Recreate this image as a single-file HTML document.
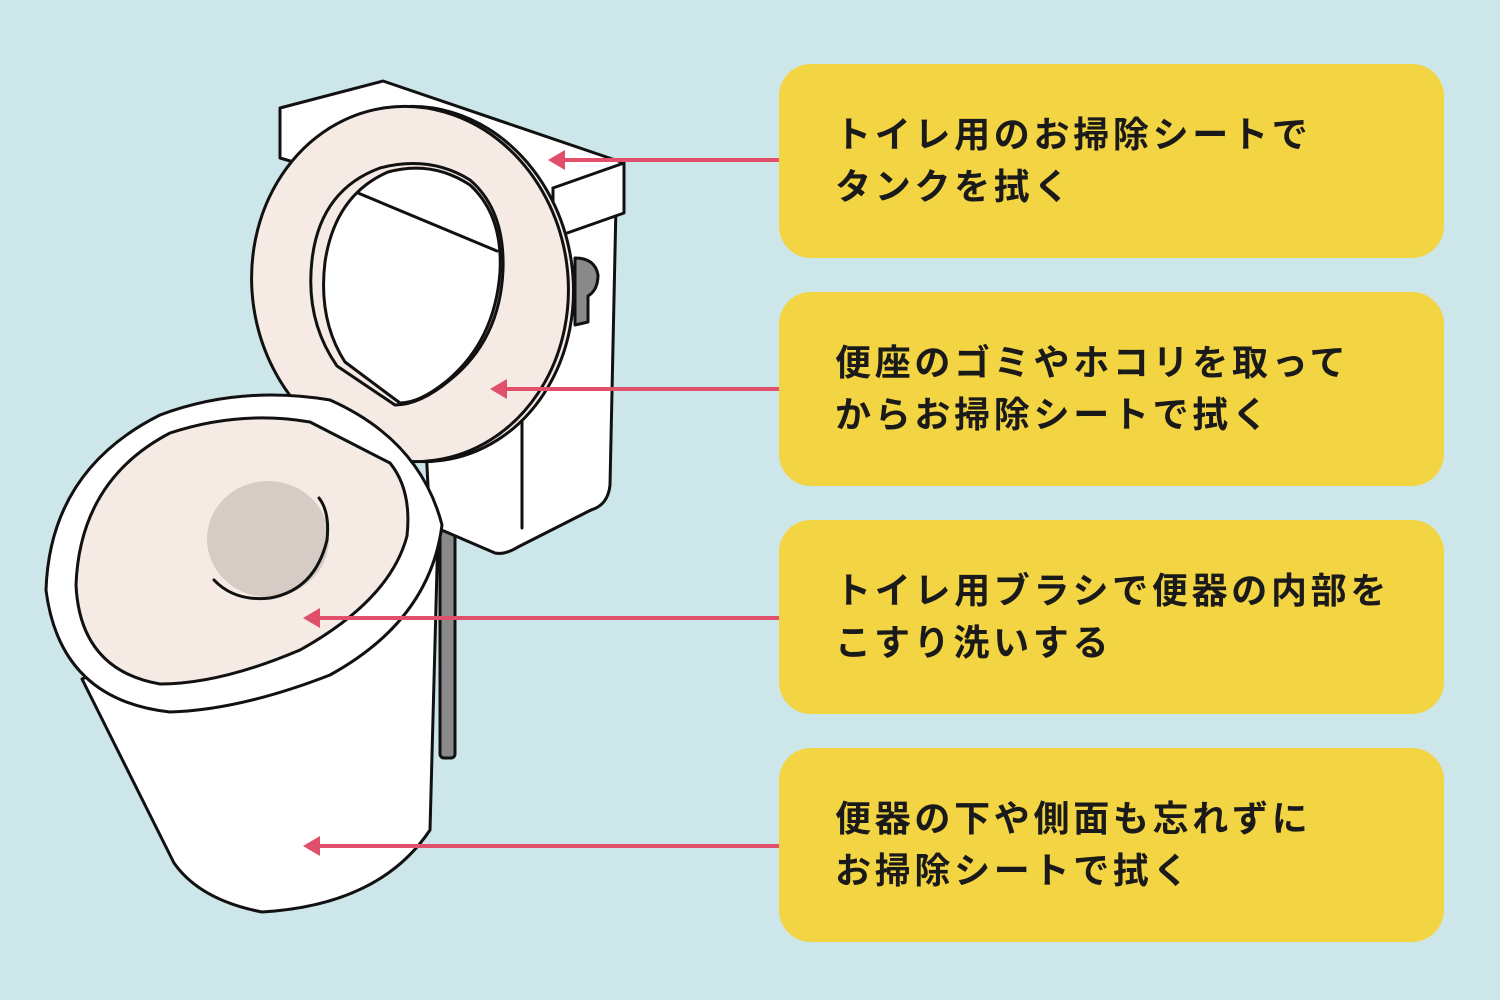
<!DOCTYPE html>
<html><head><meta charset="utf-8"><style>
html,body{margin:0;padding:0}
body{width:1500px;height:1000px;background:#cde6ea;position:relative;overflow:hidden;font-family:"Liberation Sans","Noto Sans CJK JP",sans-serif}
.box{position:absolute;left:779px;width:665px;height:194px;background:#f3d442;border-radius:32px}
.box div{position:absolute;left:56px;top:50%;transform:translateY(-50%);font-size:36px;font-weight:bold;line-height:52px;color:#1a1a1a;letter-spacing:3.7px;white-space:nowrap}
svg{position:absolute;left:0;top:0}
</style></head><body>
<div class="box" style="top:64px"><div>トイレ用のお掃除シートで<br>タンクを拭く</div></div>
<div class="box" style="top:292px"><div>便座のゴミやホコリを取って<br>からお掃除シートで拭く</div></div>
<div class="box" style="top:520px"><div>トイレ用ブラシで便器の内部を<br>こすり洗いする</div></div>
<div class="box" style="top:748px"><div>便器の下や側面も忘れずに<br>お掃除シートで拭く</div></div>
<svg width="1500" height="1000" viewBox="0 0 1500 1000">
<g stroke="#111" stroke-width="3" stroke-linejoin="round" stroke-linecap="round">
<rect x="440" y="520" width="15" height="238" rx="4" fill="#8a8a8a"/>
<path d="M616,205 L610,485 Q608,505 591,510 L518,547 Q505,555 495,553 L430,525 L420,330 L560,200 Z" fill="#fff"/>
<line x1="522" y1="421" x2="522" y2="528"/>
<path d="M280,108 L383,81 L624,163 L624,213 L553,238 L280,158 Z" fill="#fff"/>
<path d="M553,188 L624,163" fill="none"/>
<path d="M553,188 L553,238" fill="none"/>
<path d="M575,258 Q595,258 598,275 Q598,290 588,296 L588,322 L575,325 Z" fill="#8a8a8a"/>
<ellipse cx="418" cy="284" rx="155" ry="178" fill="#f6eae4" transform="rotate(-8 418 284)"/>
<ellipse cx="410" cy="284" rx="158" ry="178" fill="#f6eae4" transform="rotate(-8 410 284)"/>
<path d="M337,366 Q305,320 312,260 Q320,190 380,168 Q430,155 470,180 Q505,210 503,270 Q500,340 450,380 Q420,405 395,405 Z" fill="#f6eae4"/>
<path d="M345,362 Q318,320 325,262 Q335,195 388,172 Q432,160 470,185 Q503,215 500,272 Q495,340 448,380 Q420,403 400,403 Z" fill="#fff"/>
<line x1="358" y1="193" x2="497" y2="251"/>
<path d="M82,679 L174,863 Q200,900 262,912 Q380,905 430,830 L438,531 Z" fill="#fff"/>
<path d="M46,590 Q50,470 160,415 Q240,385 330,400 Q420,440 442,525 Q430,620 330,675 Q240,710 170,712 Q60,700 46,590 Z" fill="#fff"/>
<path d="M76,585 Q80,480 170,433 Q240,410 310,422 L390,463 Q412,490 407,536 Q390,600 300,650 Q220,684 160,684 Q80,670 76,585 Z" fill="#f6eae4"/>
<ellipse cx="268" cy="539" rx="61" ry="58" fill="#d6ccc5" stroke="none"/>
<path d="M214,580 Q235,602 270,598 Q315,590 327,540 Q330,512 319,498" fill="none"/>
</g>
<g fill="#e0506a">
<rect x="560" y="158" width="219" height="4"/><path d="M548,160 L565,150 L565,170 Z"/>
<rect x="502" y="387" width="277" height="4"/><path d="M490,389 L507,379 L507,399 Z"/>
<rect x="315" y="616" width="464" height="4"/><path d="M303,618 L320,608 L320,628 Z"/>
<rect x="315" y="844" width="464" height="4"/><path d="M303,846 L320,836 L320,856 Z"/>
</g>
</svg>
</body></html>
